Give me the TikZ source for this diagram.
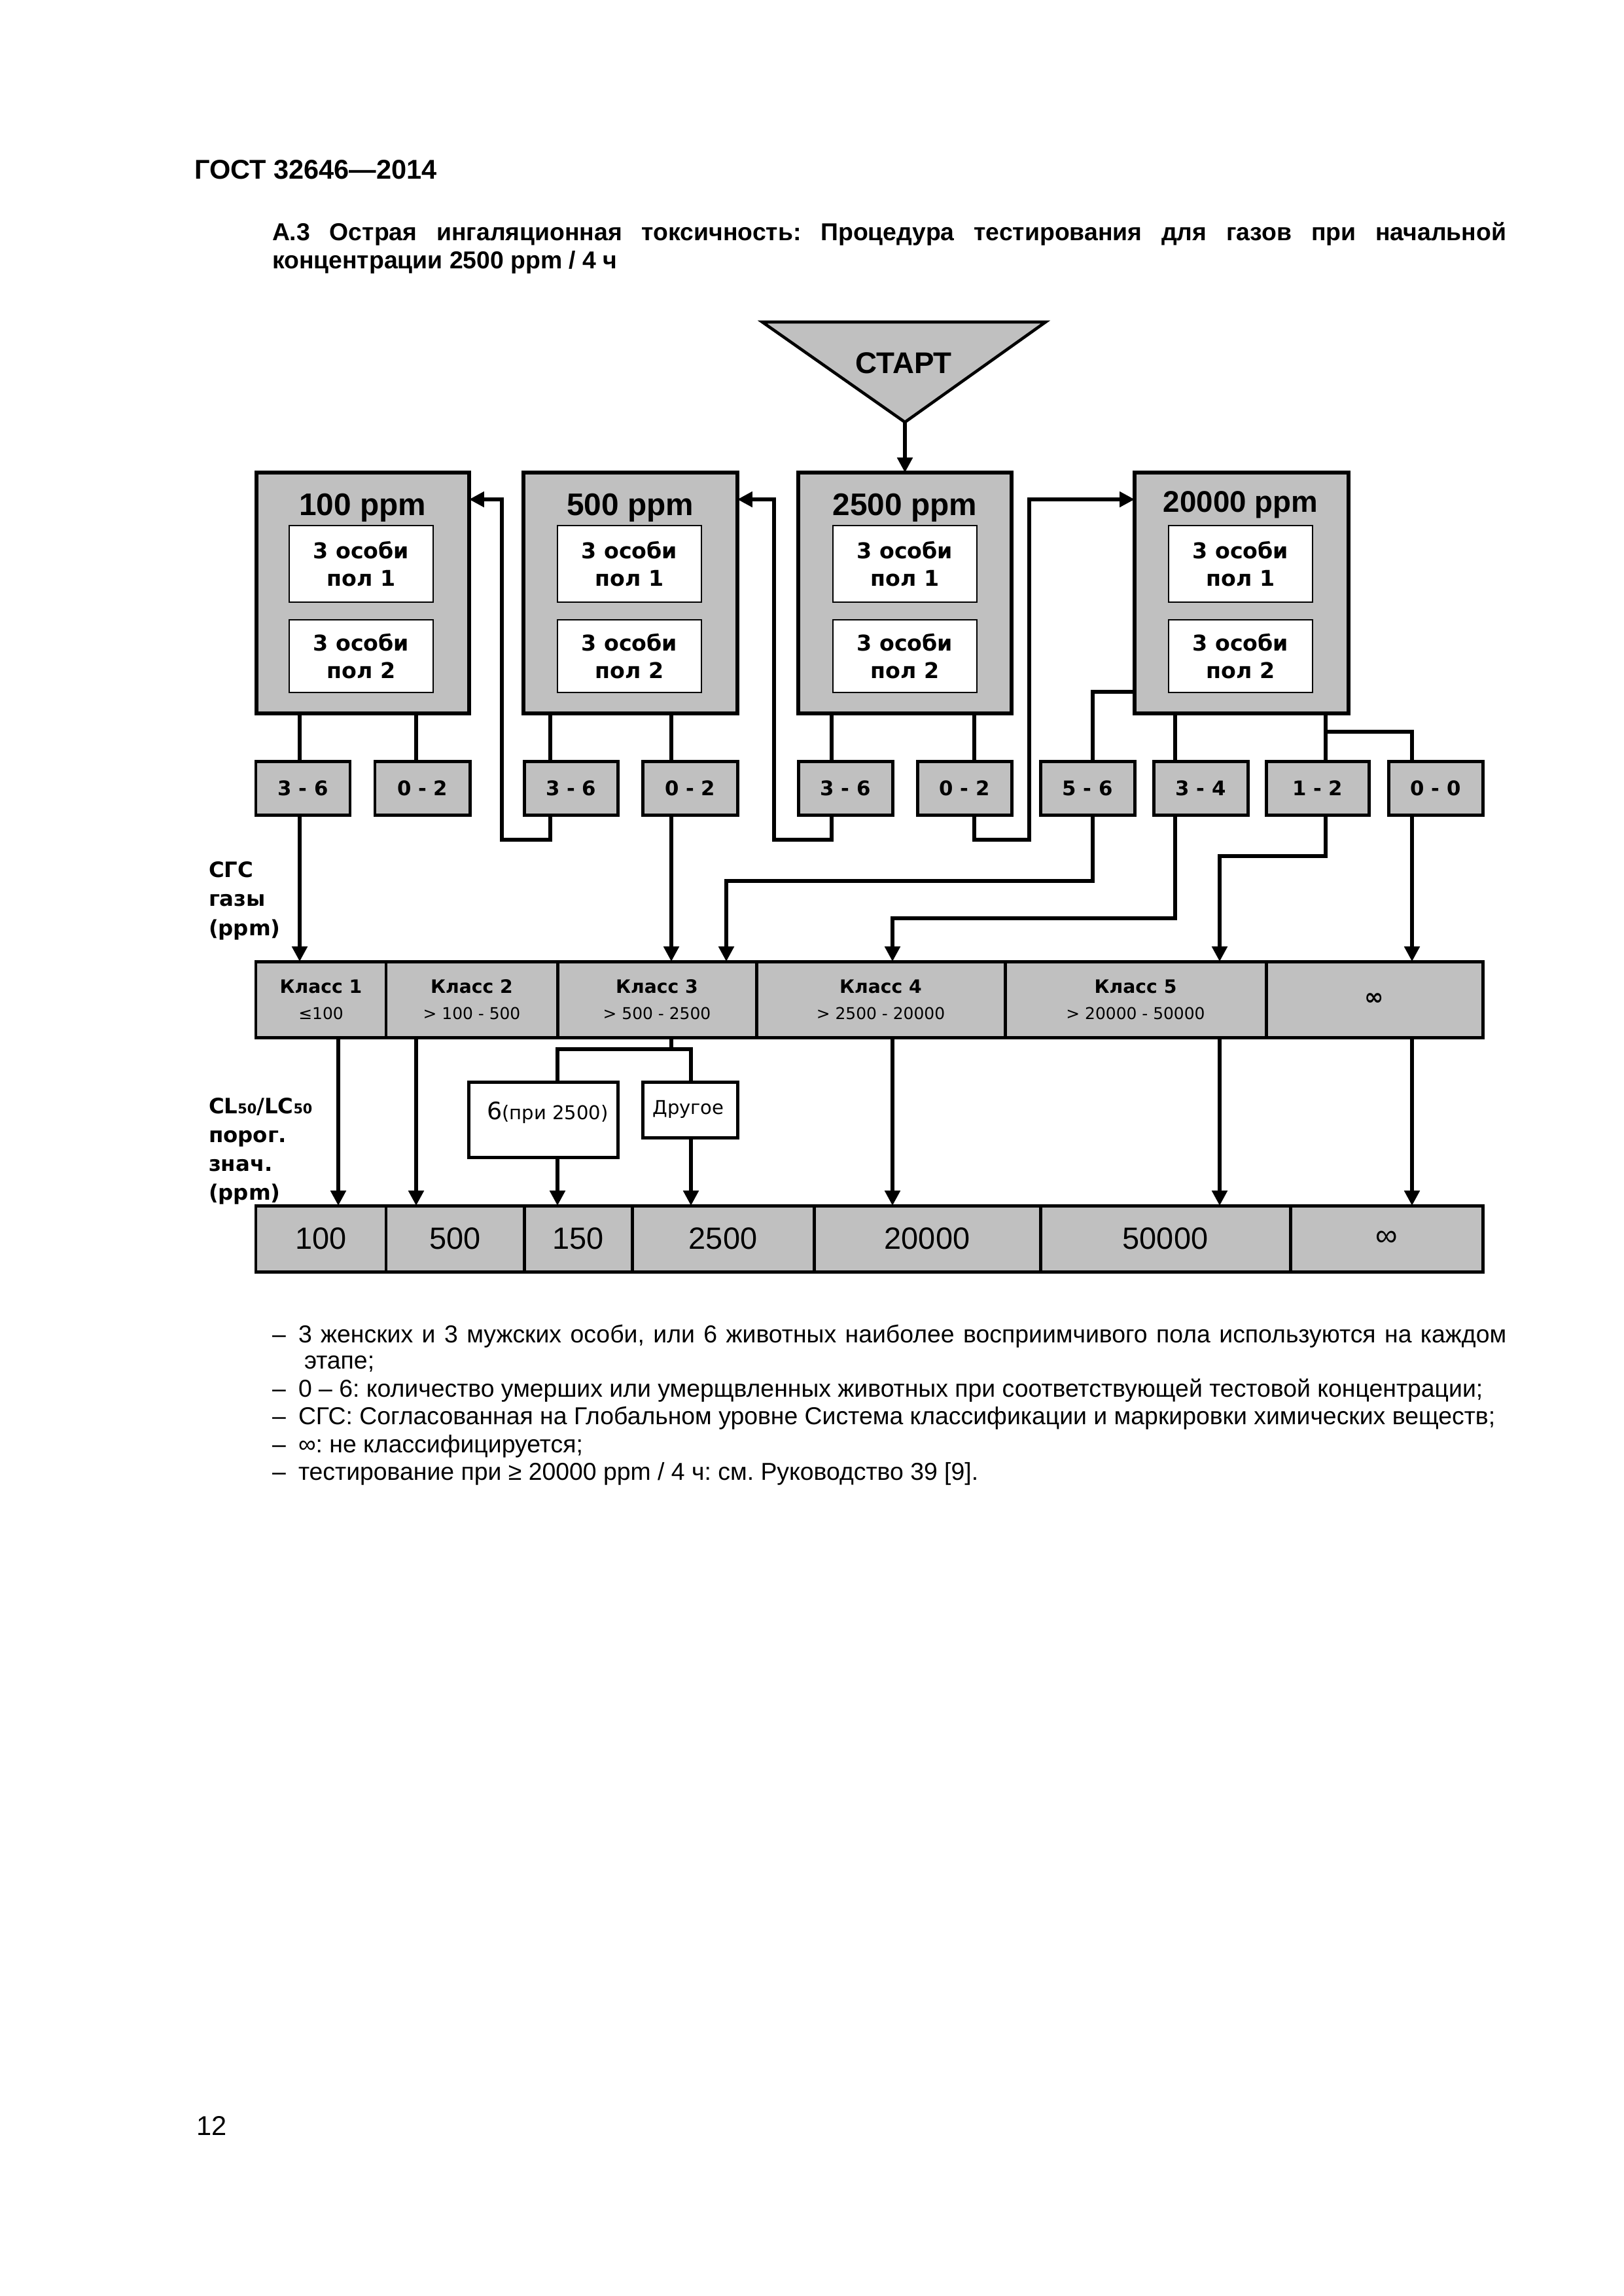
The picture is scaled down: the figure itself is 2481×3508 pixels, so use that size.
\documentclass[tikz,border=0pt]{standalone}
\usepackage{fontspec}
\setmainfont{Liberation Sans}
\newfontfamily\dv{DejaVu Sans}
\usetikzlibrary{arrows.meta}
\definecolor{boxgray}{RGB}{192,192,192}
\frenchspacing
\newcommand\uu{0.084643mm}
\newcommand\placebox[7]{\node[#6,minimum width={(#4-#2)*\uu},minimum height={(#5-#3)*\uu}] (#1) at ({(#2+#4)/2},{(#3+#5)/2}) {#7};}
\begin{document}
\begin{tikzpicture}[x=0.084643mm,y=-0.084643mm,
 every node/.style={inner sep=0pt,outer sep=0pt},
 mainbox/.style={draw,fill=boxgray,line width=1.3pt},
 inbox/.style={draw,fill=white,line width=0.7pt,align=center,font=\dv\bfseries\fontsize{8}{10.3}\selectfont},
 resbox/.style={draw,fill=boxgray,line width=1.2pt,font=\dv\bfseries\fontsize{7.4}{8}\selectfont},
 cellA/.style={draw,fill=boxgray,line width=1.2pt,align=center,font=\dv\fontsize{6}{9.6}\selectfont},
 cellB/.style={draw,fill=boxgray,line width=1.2pt,font=\fontsize{11.3}{12}\selectfont},
 wbox/.style={draw,fill=white,line width=1.2pt},
 ttl/.style={font=\bfseries\fontsize{11.5}{12}\selectfont,anchor=base},
 lbl/.style={align=left,anchor=north west,font=\dv\bfseries\fontsize{7.8}{10.8}\selectfont},
 conn/.style={line width=1.3pt},
 arr/.style={line width=1.3pt,-{Triangle[length=5.5pt,width=5.5pt]}},
 note/.style={anchor=base west,font=\fontsize{9}{10}\selectfont},
]
\fill[white] (0,0) rectangle (2481,3508);
\useasboundingbox (0,0) rectangle (2481,3508);

% header and title
\node[anchor=base west,font=\bfseries\fontsize{10}{12}\selectfont] (hdr) at (297,273) {ГОСТ 32646—2014};
\node[anchor=base west,font=\bfseries\fontsize{9}{11}\selectfont] (ttl1) at (416,367) {\makebox[159.64mm][s]{А.3 Острая ингаляционная токсичность: Процедура тестирования для газов при начальной}};
\node[anchor=base west,font=\bfseries\fontsize{9}{11}\selectfont] (ttl2) at (416,410) {концентрации 2500 ppm / 4 ч};

% start
\draw[fill=boxgray,line width=1.1pt] (1165,492) -- (1598,492) -- (1383,645) -- cycle;
\coordinate (sapex) at (1383,645);
\node[font=\bfseries\fontsize{11}{12}\selectfont,anchor=base] (start) at (1381,570) {СТАРТ};

% main boxes
\placebox{b100}{392}{722}{717}{1090}{mainbox}{}
\placebox{b500}{800}{722}{1127}{1090}{mainbox}{}
\placebox{b2500}{1220}{722}{1546}{1090}{mainbox}{}
\placebox{b20000}{1734}{722}{2061}{1090}{mainbox}{}
\node[ttl] (t100) at (554,787) {100 ppm};
\node[ttl] (t500) at (963,787) {500 ppm};
\node[ttl] (t2500) at (1383,787) {2500 ppm};
\node[ttl,font=\bfseries\fontsize{11}{12}\selectfont] (t20000) at (1896,782) {20000 ppm};
\placebox{i100a}{442}{803}{662}{920}{inbox}{3 особи\\пол 1}
\placebox{i100b}{442}{947}{662}{1058}{inbox}{3 особи\\пол 2}
\placebox{i500a}{852}{803}{1072}{920}{inbox}{3 особи\\пол 1}
\placebox{i500b}{852}{947}{1072}{1058}{inbox}{3 особи\\пол 2}
\placebox{i2500a}{1273}{803}{1493}{920}{inbox}{3 особи\\пол 1}
\placebox{i2500b}{1273}{947}{1493}{1058}{inbox}{3 особи\\пол 2}
\placebox{i20000a}{1786}{803}{2006}{920}{inbox}{3 особи\\пол 1}
\placebox{i20000b}{1786}{947}{2006}{1058}{inbox}{3 особи\\пол 2}

% result boxes
\placebox{r1}{391}{1163}{535}{1245}{resbox}{3 - 6}
\placebox{r2}{573}{1163}{718}{1245}{resbox}{0 - 2}
\placebox{r3}{801}{1163}{944}{1245}{resbox}{3 - 6}
\placebox{r4}{982}{1163}{1127}{1245}{resbox}{0 - 2}
\placebox{r5}{1220}{1163}{1364}{1245}{resbox}{3 - 6}
\placebox{r6}{1402}{1163}{1546}{1245}{resbox}{0 - 2}
\placebox{r7}{1590}{1163}{1734}{1245}{resbox}{5 - 6}
\placebox{r8}{1763}{1163}{1907}{1245}{resbox}{3 - 4}
\placebox{r9}{1935}{1163}{2092}{1245}{resbox}{1 - 2}
\placebox{r10}{2122}{1163}{2266}{1245}{resbox}{0 - 0}

% class row
\placebox{c1}{391}{1469}{590}{1585}{cellA}{{\bfseries\fontsize{6.8}{9.6}\selectfont Класс 1}\\≤100}
\placebox{c2}{590}{1469}{852}{1585}{cellA}{{\bfseries\fontsize{6.8}{9.6}\selectfont Класс 2}\\> 100 - 500}
\placebox{c3}{852}{1469}{1156}{1585}{cellA}{{\bfseries\fontsize{6.8}{9.6}\selectfont Класс 3}\\> 500 - 2500}
\placebox{c4}{1156}{1469}{1536}{1585}{cellA}{{\bfseries\fontsize{6.8}{9.6}\selectfont Класс 4}\\> 2500 - 20000}
\placebox{c5}{1536}{1469}{1935}{1585}{cellA}{{\bfseries\fontsize{6.8}{9.6}\selectfont Класс 5}\\> 20000 - 50000}
\placebox{c6}{1935}{1469}{2266}{1585}{cellA}{{\bfseries\fontsize{8.5}{9.6}\selectfont ∞}}

% intermediate boxes
\placebox{o6}{716}{1653}{944}{1768}{wbox}{}
\placebox{oth}{982}{1653}{1127}{1738}{wbox}{}
\node[anchor=base] (o6t) at (837,1710) {{\dv\fontsize{8.8}{9}\selectfont 6}{\dv\fontsize{7}{8}\selectfont(при 2500)}};
\node[anchor=base,font=\dv\fontsize{7}{8}\selectfont] (otht) at (1052,1702) {Другое};

% bottom row
\placebox{v1}{391}{1842}{590}{1943}{cellB}{100}
\placebox{v2}{590}{1842}{801}{1943}{cellB}{500}
\placebox{v3}{801}{1842}{966}{1943}{cellB}{150}
\placebox{v4}{966}{1842}{1244}{1943}{cellB}{2500}
\placebox{v5}{1244}{1842}{1590}{1943}{cellB}{20000}
\placebox{v6}{1590}{1842}{1972}{1943}{cellB}{50000}
\placebox{v7}{1972}{1842}{2266}{1943}{cellB}{\raisebox{-1.2pt}{∞}}

% side labels
\node[lbl] (lgas) at (319,1316) {СГС\\газы\\(ppm)};
\node[lbl,font=\dv\bfseries\fontsize{7.8}{10.6}\selectfont] (lcl) at (319,1677) {CL{\fontsize{5}{5}\selectfont 50}/LC{\fontsize{5}{5}\selectfont 50}\\порог.\\знач.\\(ppm)};

% connector helper coordinates
\coordinate (h1) at (0,763);
\foreach \n/\x in {s1/458,s2/636,s3/841,s4/1026,s5/1271,s6/1489,s7/1670,s8/1796,s9/2026,s10/2158,t7/1110,t8/1364,t9/1864,k1/517,k3/852,k4/1056} {\coordinate (\n) at (\x,0);}

% connectors
\draw[arr] (sapex) -- (b2500.north);
\draw[conn] (b100.south -| s1) -- (r1.north -| s1);
\draw[conn] (b100.south -| s2) -- (r2.north -| s2);
\draw[conn] (b500.south -| s3) -- (r3.north -| s3);
\draw[conn] (b500.south -| s4) -- (r4.north -| s4);
\draw[conn] (b2500.south -| s5) -- (r5.north -| s5);
\draw[conn] (b2500.south -| s6) -- (r6.north -| s6);
\draw[conn] (b20000.south -| s8) -- (r8.north -| s8);
\draw[conn] (b20000.south -| s9) -- (r9.north -| s9);
\draw[conn] (b20000.south -| s9) ++(0,28) -| (r10.north -| s10);
\draw[conn] (b20000.south west) ++(0,-33) -| (r7.north -| s7);

\draw[arr] (r3.south -| s3) -- ++(0,38) -- ++(-74,0) |- (b100.east |- h1);
\draw[arr] (r5.south -| s5) -- ++(0,38) -- ++(-88,0) |- (b500.east |- h1);
\draw[arr] (r6.south -| s6) -- ++(0,38) -- ++(84,0) |- (b20000.west |- h1);
\draw[arr] (r1.south -| s1) -- (c1.north -| s1);
\draw[arr] (r4.south -| s4) -- (c3.north -| s4);
\draw[arr] (r7.south -| s7) -- ++(0,101) -| (c3.north -| t7);
\draw[arr] (r8.south -| s8) -- ++(0,158) -| (c4.north -| t8);
\draw[arr] (r9.south -| s9) -- ++(0,63) -| (c5.north -| t9);
\draw[arr] (r10.south -| s10) -- (c6.north -| s10);

\draw[arr] (c1.south -| k1) -- (v1.north -| k1);
\draw[arr] (c2.south -| s2) -- (v2.north -| s2);
\draw[conn] (c3.south -| s4) -- ++(0,18);
\draw[conn] (o6.north -| k3) -- ++(0,-50) -| (oth.north -| k4);
\draw[arr] (o6.south -| k3) -- (v3.north -| k3);
\draw[arr] (oth.south -| k4) -- (v4.north -| k4);
\draw[arr] (c4.south -| t8) -- (v5.north -| t8);
\draw[arr] (c5.south -| t9) -- (v6.north -| t9);
\draw[arr] (c6.south -| s10) -- (v7.north -| s10);

% notes
\node[note] (d1) at (416,2051) {–};
\node[note] (n1) at (456,2051) {\makebox[156.25mm][s]{3 женских и 3 мужских особи, или 6 животных наиболее восприимчивого пола используются на каждом}};
\node[note] (n2) at (465,2091) {этапе;};
\node[note] (d3) at (416,2134) {–};
\node[note] (n3) at (456,2134) {0 – 6: количество умерших или умерщвленных животных при соответствующей тестовой концентрации;};
\node[note] (d4) at (416,2176) {–};
\node[note] (n4) at (456,2176) {СГС: Согласованная на Глобальном уровне Система классификации и маркировки химических веществ;};
\node[note] (d5) at (416,2219) {–};
\node[note] (n5) at (456,2219) {∞: не классифицируется;};
\node[note] (d6) at (416,2261) {–};
\node[note] (n6) at (456,2261) {тестирование при ≥ 20000 ppm / 4 ч: см. Руководство 39 [9].};

\node[anchor=base west,font=\fontsize{10}{12}\selectfont] (pg) at (300,3262) {12};
\end{tikzpicture}
\end{document}
